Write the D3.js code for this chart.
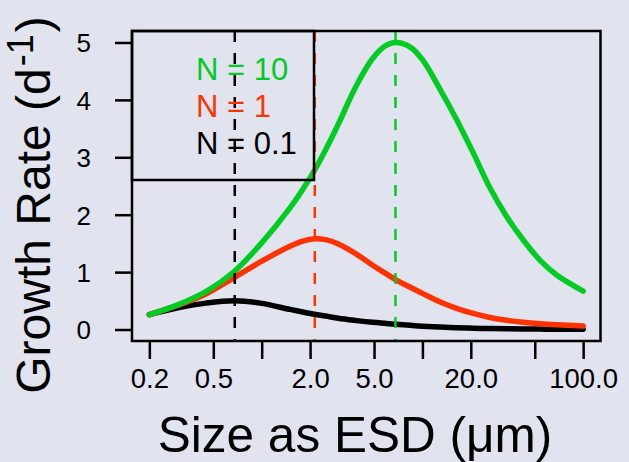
<!DOCTYPE html>
<html><head><meta charset="utf-8">
<script src="https://cdn.jsdelivr.net/npm/d3@7"></script>
<style>html,body{margin:0;padding:0;background:#e1e3ef;} svg{display:block;}</style>
</head><body>
<svg id="chart" width="629" height="462"></svg>
<script>
// ---- data ----
const sizes      = [0.2, 0.3, 0.45, 0.68, 1.0, 1.5, 1.8, 2.14, 2.5, 3.0, 3.9, 4.9, 5.8, 6.8, 8.4, 10, 12.9, 16.3, 20.7, 26.3, 33.4, 42.4, 53.8, 68.4, 100];
const growthN10  = [0.26, 0.43, 0.66, 1.02, 1.51, 2.12, 2.44, 2.78, 3.13, 3.58, 4.26, 4.72, 4.93, 5.00, 4.92, 4.70, 4.18, 3.66, 3.08, 2.47, 1.97, 1.56, 1.21, 0.95, 0.67];
const growthN1   = [0.26, 0.42, 0.62, 0.91, 1.19, 1.45, 1.54, 1.58, 1.565, 1.49, 1.31, 1.12, 0.99, 0.87, 0.735, 0.63, 0.48, 0.37, 0.28, 0.21, 0.16, 0.125, 0.10, 0.083, 0.063];
const growthN01  = [0.26, 0.38, 0.46, 0.50, 0.455, 0.35, 0.305, 0.265, 0.235, 0.195, 0.155, 0.125, 0.108, 0.093, 0.073, 0.058, 0.042, 0.031, 0.022, 0.016, 0.012, 0.009, 0.007, 0.006, 0.005];
const optimalSizes = [6.8, 2.14, 0.68];
const seriesLabels = ["N = 10", "N = 1", "N = 0.1"];
const seriesColors = ["#00cc22", "#ff3300", "#000000"];
const xTicks      = [0.2, 0.5, 1, 2, 5, 10, 20, 50, 100];
const xTickLabels = ["0.2", "0.5", "", "2.0", "5.0", "", "20.0", "", "100.0"];
const yTicks      = [0, 1, 2, 3, 4, 5];

const series = [growthN10, growthN1, growthN01];
const FONT = "'Liberation Sans', Arial, Helvetica, sans-serif";

const svg = d3.select("#chart");
const L = 132, R = 600.5, T = 31, B = 341;

const lmin = Math.log10(0.2), lmax = Math.log10(100), pad = 0.04 * (lmax - lmin);
const x = d3.scaleLog().domain([Math.pow(10, lmin - pad), Math.pow(10, lmax + pad)]).range([L, R]);
const y = d3.scaleLinear().domain([-0.2, 5.2]).range([B, T]);

// curves
const line = d3.line().x(d => x(d[0])).y(d => y(d[1])).curve(d3.curveCatmullRom.alpha(0.5));
[2, 1, 0].forEach(idx => {
  svg.append("path")
    .datum(sizes.map((s, j) => [s, series[idx][j]]))
    .attr("d", line)
    .attr("fill", "none")
    .attr("stroke", seriesColors[idx])
    .attr("stroke-width", 5.5)
    .attr("stroke-linecap", "round")
    .attr("stroke-linejoin", "round");
});

// optimum dashed lines
svg.selectAll(".opt").data(optimalSizes).enter().append("line")
  .attr("x1", d => x(d)).attr("x2", d => x(d))
  .attr("y1", T).attr("y2", B)
  .attr("stroke", (d, i) => seriesColors[i])
  .attr("stroke-width", 2.5)
  .attr("stroke-dasharray", "11,11");

// frame
svg.append("rect").attr("x", L).attr("y", T).attr("width", R - L).attr("height", B - T)
  .attr("fill", "none").attr("stroke", "#000").attr("stroke-width", 2.5);

// axes
const yAxis = svg.append("g").attr("transform", `translate(${L},0)`)
  .call(d3.axisLeft(y).tickValues(yTicks).tickSize(17).tickPadding(24).tickFormat(d3.format("d")));
yAxis.select(".domain").remove();
yAxis.selectAll("line").attr("stroke", "#000").attr("stroke-width", 2.5);
yAxis.selectAll("text").attr("font-family", FONT).attr("font-size", 26).attr("fill", "#000").attr("dy", "0.36em");

const xAxis = svg.append("g").attr("transform", `translate(0,${B})`)
  .call(d3.axisBottom(x).tickValues(xTicks).tickSize(18).tickFormat((d, i) => xTickLabels[i]));
xAxis.select(".domain").remove();
xAxis.selectAll("line").attr("stroke", "#000").attr("stroke-width", 2.5);
xAxis.selectAll("text").attr("font-family", FONT).attr("font-size", 27.5).attr("fill", "#000")
  .attr("y", 46.5).attr("dy", null);

// legend
svg.append("rect").attr("x", L).attr("y", T).attr("width", 314 - L).attr("height", 180 - T)
  .attr("fill", "none").attr("stroke", "#000").attr("stroke-width", 2.5);
seriesLabels.forEach((t, i) => {
  svg.append("text").attr("x", 196).attr("y", 80 + i * 37)
    .attr("font-family", FONT).attr("font-size", 31).attr("fill", seriesColors[i]).text(t);
});

// titles
svg.append("text").attr("x", 355).attr("y", 452).attr("text-anchor", "middle")
  .attr("font-family", FONT).attr("font-size", 49.5).attr("fill", "#000")
  .text("Size as ESD (\u03BCm)");

const yt = svg.append("text").attr("transform", "translate(50,205) rotate(-90)")
  .attr("text-anchor", "middle").attr("font-family", FONT).attr("font-size", 48).attr("fill", "#000");
yt.append("tspan").text("Growth Rate (d");
yt.append("tspan").attr("font-size", 36).attr("dy", -17).attr("dx", 2).text("-1");
yt.append("tspan").attr("dy", 17).attr("dx", 2).text(")");
</script>
</body></html>
